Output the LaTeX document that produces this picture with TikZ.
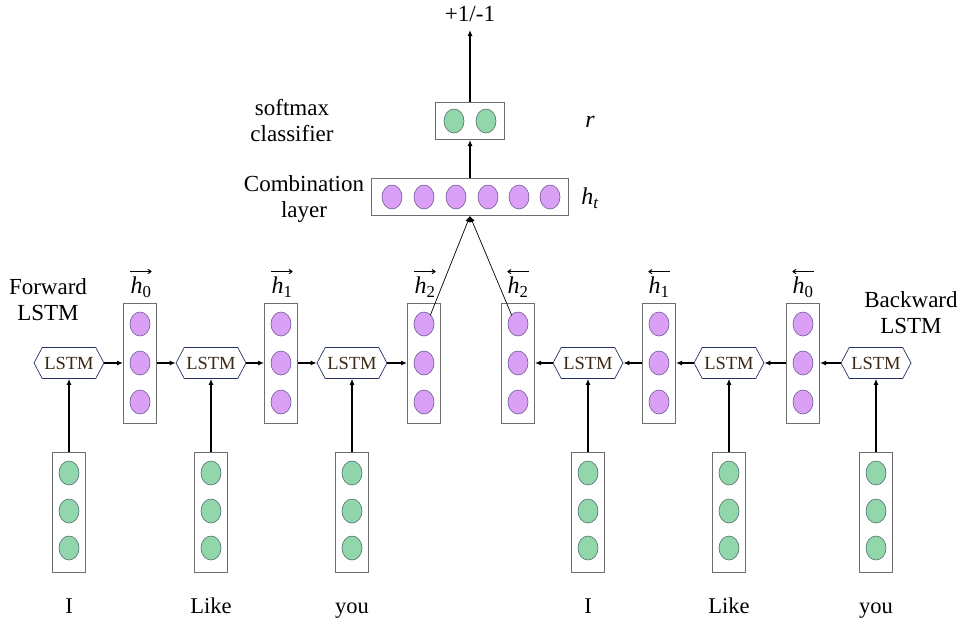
\documentclass[tikz,border=0pt]{standalone}
\usepackage{fontspec}
\setmainfont{Liberation Serif}
\usetikzlibrary{shapes.symbols,shapes.geometric,arrows.meta}
\definecolor{violetfill}{RGB}{218,160,246}
\definecolor{violetline}{RGB}{110,90,150}
\definecolor{greenfill}{RGB}{146,214,172}
\definecolor{greenline}{RGB}{80,110,110}
\definecolor{boxline}{RGB}{110,110,110}
\definecolor{hexline}{RGB}{40,50,100}
\definecolor{hextext}{RGB}{60,40,20}
\tikzset{
  x=1pt, y=-1pt,
  colbox/.style={draw=boxline, fill=white, line width=1pt, minimum width=33pt, minimum height=120pt, inner sep=0pt},
  rowbox/.style={draw=boxline, fill=white, line width=1pt, inner sep=0pt},
  vunit/.style={ellipse, draw=violetline, fill=violetfill, line width=0.6pt, minimum width=20pt, minimum height=24pt, inner sep=0pt},
  gunit/.style={ellipse, draw=greenline, fill=greenfill, line width=0.6pt, minimum width=20pt, minimum height=24pt, inner sep=0pt},
  lstm/.style={shape=signal, signal to=east and west, signal pointer angle=124, draw=hexline, fill=white, line width=0.7pt,
    minimum width=70pt, minimum height=31pt, inner sep=1pt, font=\fontsize{18.5}{18.5}\selectfont, text=hextext},
  arr/.style={-{Latex[length=6pt,width=5pt]}, line width=1.1pt},
  thin arr/.style={-{Latex[length=6pt,width=5pt]}, line width=0.7pt},
  lbl/.style={font=\fontsize{23}{26}\selectfont, align=center, inner sep=0pt},
  wlbl/.style={font=\fontsize{22.5}{22.5}\selectfont, anchor=base, inner sep=0pt},
  hlbl/.style={font=\fontsize{24}{24}\selectfont, inner sep=0pt},
  vecmark/.style={-{To[length=4pt,width=5pt]}, line width=1pt},
}
\begin{document}
\begin{tikzpicture}
\useasboundingbox (0,0) rectangle (969,625);

% input word vectors and their LSTM cells
\foreach \i/\xx/\w in {0/69/I,1/211/Like,2/352/you,3/588/I,4/729/Like,5/876/you}{
  \node[colbox] (in\i) at (\xx,512) {};
  \node[gunit] at (\xx,473) {};
  \node[gunit] at (\xx,511) {};
  \node[gunit] at (\xx,548) {};
  \node[lstm] (cell\i) at (\xx,363) {LSTM};
  \node[wlbl] (word\i) at (\xx,613) {\w};
  \draw[arr] (in\i.north) -- (cell\i.south);
}

% hidden state columns
\foreach \n/\xx in {f0/140,f1/281,f2/424,b2/518,b1/659,b0/803}{
  \node[colbox] (\n) at (\xx,363) {};
  \node[vunit] (\n-top) at (\xx,324) {};
  \node[vunit] at (\xx,363) {};
  \node[vunit] at (\xx,402) {};
}

% state labels with direction marks
\foreach \n/\xx/\s in {f0/141/0,f1/282/1,f2/425/2,b2/518/2,b1/659/1,b0/803/0}{
  \node[hlbl] (\n-lab) at (\xx,287) {\textit{h}\textsubscript{\s}};
}
\foreach \n in {f0,f1,f2}{
  \draw[vecmark] ([yshift=5pt]\n-lab.north west) -- ([yshift=5pt]\n-lab.north east);
}
\foreach \n in {b0,b1,b2}{
  \draw[vecmark] ([yshift=5pt]\n-lab.north east) -- ([yshift=5pt]\n-lab.north west);
}

\node[lbl] at (48,300) {Forward\\LSTM};
\node[lbl] at (911,313) {Backward\\LSTM};

% forward chain
\draw[arr] (cell0.east) -- (f0.west);
\draw[arr] (f0.east) -- (cell1.west);
\draw[arr] (cell1.east) -- (f1.west);
\draw[arr] (f1.east) -- (cell2.west);
\draw[arr] (cell2.east) -- (f2.west);

% backward chain
\draw[arr] (cell5.west) -- (b0.east);
\draw[arr] (b0.west) -- (cell4.east);
\draw[arr] (cell4.west) -- (b1.east);
\draw[arr] (b1.west) -- (cell3.east);
\draw[arr] (cell3.west) -- (b2.east);

% combination layer
\node[rowbox, minimum width=197pt, minimum height=37pt] (comb) at (470,197) {};
\foreach \xx in {392,424,456,488,519,550}{
  \node[vunit] at (\xx,197) {};
}
\node[lbl] at (304,199) {Combination\\layer};
\node[hlbl] at (590,198) {\textit{h}\textsubscript{\textit{t}}};

% softmax classifier
\node[rowbox, minimum width=69pt, minimum height=37pt] (soft) at (470,121) {};
\node[gunit] at (454,121) {};
\node[gunit] at (486,121) {};
\node[lbl] at (292,121) {softmax\\classifier};
\node[hlbl] at (590,122) {\textit{r}};

% output
\node[lbl] (out) at (470,14) {+1/-1};
\coordinate (outtip) at (470,30);

\draw[thin arr] ([xshift=-1pt]f2-top.north east) -- (comb.south);
\draw[thin arr] ([xshift=1pt]b2-top.north west) -- (comb.south);
\draw[arr] (comb.north) -- (soft.south);
\draw[arr] (soft.north) -- (outtip);
\end{tikzpicture}
\end{document}
